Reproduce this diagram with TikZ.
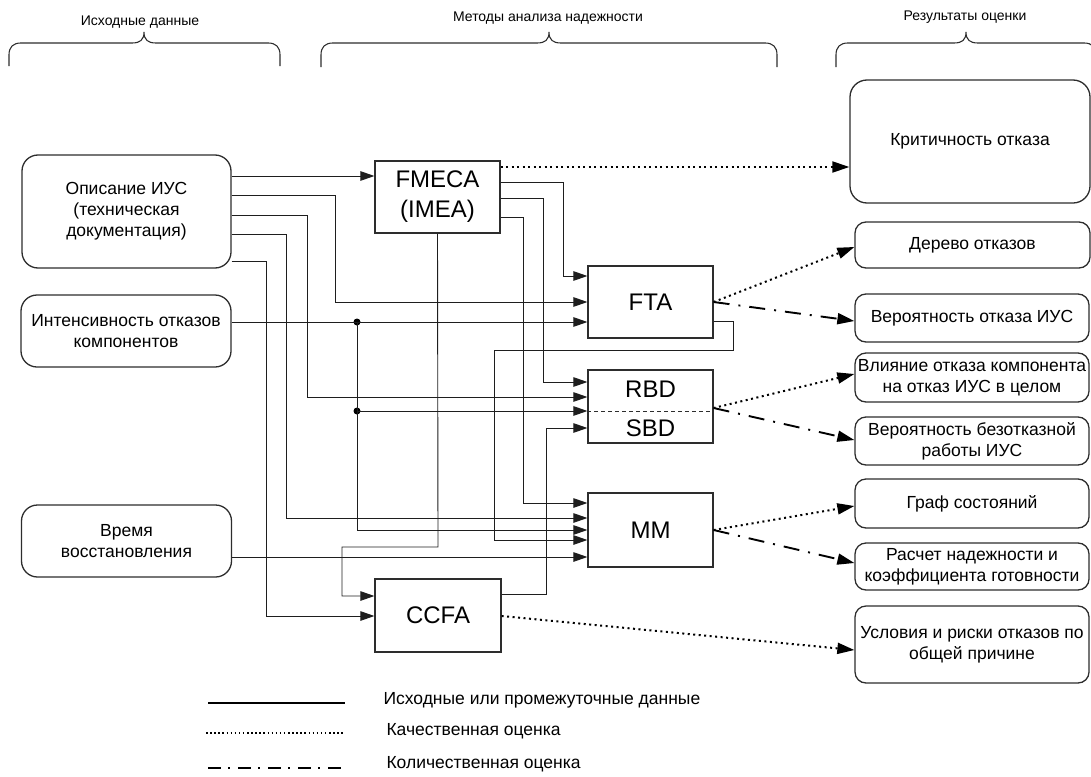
\documentclass[tikz,border=0pt]{standalone}
\usepackage{fontspec}
\setmainfont{Liberation Sans}
\usetikzlibrary{arrows.meta}
\newcommand\fsN{\fontsize{17.5}{21}\selectfont}
\newcommand\fsB{\fontsize{24}{30}\selectfont}
\newcommand\fsS{\fontsize{14}{17}\selectfont}
\definecolor{boxc}{RGB}{45,45,45}
\definecolor{wirec}{RGB}{30,30,30}
\tikzset{
  every node/.style={font=\fsN, text=black},
  inbox/.style={draw=boxc, line width=1.3pt, rounded corners=16pt, align=center, inner sep=0pt},
  outbox/.style={draw=boxc, line width=1.3pt, rounded corners=11pt, align=center, inner sep=0pt},
  mbox/.style={draw=boxc, line width=1.2pt, align=center, inner sep=0pt, font=\fsB},
  tip/.style={-{Triangle[length=14pt,width=9.5pt]}},
  bigtip/.style={-{Triangle[length=17pt,width=11pt]}},
  wire/.style={draw=wirec, line width=0.9pt, tip},
  qual/.style={draw=black, line width=2pt, dash pattern=on 2pt off 3.5pt, bigtip},
  quant/.style={draw=black, line width=1.9pt, dash pattern=on 16pt off 9pt on 2pt off 9pt, bigtip},
  junction/.style={circle, fill=black, inner sep=0pt, minimum size=7pt},
  bracelbl/.style={font=\fsS},
  bracepath/.style={draw=boxc, line width=1.1pt},
}
\begin{document}
\begin{tikzpicture}[x=1pt,y=-1pt]
\useasboundingbox (0,0) rectangle (1091,776);

% braces
\draw[bracepath] (9,66) -- (9,55) .. controls (9,47) and (13,43) .. (21,43) -- (132,43) .. controls (140,43) and (144,40) .. (144,32) .. controls (144,40) and (148,43) .. (156,43) -- (268,43) .. controls (276,43) and (280,47) .. (280,55) -- (280,66);
\draw[bracepath] (321,67) -- (321,55) .. controls (321,47) and (325,43) .. (333,43) -- (537,43) .. controls (545,43) and (549,40) .. (549,32) .. controls (549,40) and (553,43) .. (561,43) -- (765,43) .. controls (773,43) and (777,47) .. (777,55) -- (777,67);
\draw[bracepath] (836,67) -- (836,55) .. controls (836,47) and (840,43) .. (848,43) -- (954,43) .. controls (962,43) and (966,40) .. (966,32) .. controls (966,40) and (970,43) .. (978,43) -- (1084,43) .. controls (1092,43) and (1096,47) .. (1096,55) -- (1096,67);
\node[bracelbl] (h1) at (140,22) {Исходные данные};
\node[bracelbl] (h2) at (548,18) {Методы анализа надежности};
\node[bracelbl] (h3) at (965,17) {Результаты оценки};

% input boxes
\node[inbox, minimum width=209pt, minimum height=113pt] (desc) at (126.5,211.5) {Описание ИУС\\(техническая\\документация)};
\node[inbox, minimum width=210pt, minimum height=72pt] (intens) at (126,331) {Интенсивность отказов\\компонентов};
\node[inbox, minimum width=210pt, minimum height=72pt] (vrem) at (126.5,541) {Время\\восстановления};

% method boxes
\node[mbox, minimum width=125pt, minimum height=72pt] (fmeca) at (437.5,197) {FMECA\\(IMEA)};
\node[mbox, minimum width=125pt, minimum height=72pt] (fta) at (650.5,302) {FTA};
\node[mbox, minimum width=125pt, minimum height=73pt] (rbd) at (650.5,406.5) {};
\node[font=\fsB] (rbdt) at (650.5,389) {RBD};
\node[font=\fsB] (sbdt) at (650.5,428.5) {SBD};
\draw[draw=boxc, line width=0.6pt, dash pattern=on 4pt off 3pt] (rbd.west |- 0,411) -- (rbd.east |- 0,411);
\node[mbox, minimum width=125pt, minimum height=74pt] (mm) at (650.5,530) {MM};
\node[mbox, minimum width=126pt, minimum height=73pt] (ccfa) at (438,615.5) {CCFA};

% result boxes
\node[outbox, rounded corners=17pt, minimum width=240pt, minimum height=123pt] (crit) at (970,141.5) {Критичность отказа};
\node[outbox, minimum width=235pt, minimum height=46pt] (tree) at (972.5,245) {Дерево отказов};
\node[outbox, minimum width=234pt, minimum height=48pt] (pfail) at (972,318) {Вероятность отказа ИУС};
\node[outbox, minimum width=234pt, minimum height=49pt] (infl) at (972,377.5) {Влияние отказа компонента\\на отказ ИУС в целом};
\node[outbox, minimum width=234pt, minimum height=48pt] (prel) at (972,441) {Вероятность безотказной\\работы ИУС};
\node[outbox, minimum width=234pt, minimum height=49pt] (graph) at (972,503.5) {Граф состояний};
\node[outbox, minimum width=234pt, minimum height=47pt] (calc) at (972,566.5) {Расчет надежности и\\коэффициента готовности};
\node[outbox, minimum width=234pt, minimum height=77pt] (cond) at (972,644.5) {Условия и риски отказов по\\общей причине};

% solid wires from description
\draw[wire] (desc.east |- 0,176) -- (fmeca.west |- 0,176);
\draw[wire] (desc.east |- 0,195) -- (335,195) -- (335,302) -- (fta.west |- 0,302);
\draw[wire] (desc.east |- 0,215) -- (307,215) -- (307,397) -- (rbd.west |- 0,397);
\draw[wire] (desc.east |- 0,234) -- (286,234) -- (286,518) -- (mm.west |- 0,518);
\draw[wire] (desc.east |- 0,261) -- (266,261) -- (266,616) -- (ccfa.west |- 0,616);

% intensities
\node[junction] (j1) at (357,322) {};
\node[junction] (j2) at (357,411) {};
\draw[wire] (intens.east |- 0,322) -- (fta.west |- 0,322);
\draw[wire] (j1.center) -- (357,530) -- (mm.west |- 0,530);
\draw[wire] (j2.center) -- (rbd.west |- 0,411);

% repair time
\draw[wire] (vrem.east |- 0,557) -- (mm.west |- 0,557);

% FMECA outputs
\draw[wire] (fmeca.south) -- (438,547) -- (342,547) -- (342,596) -- (ccfa.west |- 0,596);
\draw[wire] (fmeca.east |- 0,182) -- (563,182) -- (563,276) -- (fta.west |- 0,276);
\draw[wire] (fmeca.east |- 0,198) -- (543,198) -- (543,382) -- (rbd.west |- 0,382);
\draw[wire] (fmeca.east |- 0,217) -- (523,217) -- (523,503) -- (mm.west |- 0,503);

% FTA -> MM
\draw[wire] (fta.east |- 0,321) -- (733,321) -- (733,350) -- (494,350) -- (494,540) -- (mm.west |- 0,540);
% CCFA -> SBD
\draw[wire] (ccfa.east |- 0,594) -- (546,594) -- (546,428) -- (rbd.west |- 0,428);

% qualitative / quantitative results
\draw[qual] (fmeca.east |- 0,167) -- (crit.west |- 0,167);
\draw[qual] (fta.east) -- (tree.west |- 0,247);
\draw[quant] (fta.east) -- (pfail.west |- 0,321);
\draw[qual] (rbd.east |- 0,408) -- (infl.west |- 0,374);
\draw[quant] (rbd.east |- 0,408) -- (prel.west |- 0,440);
\draw[qual] (mm.east) -- (graph.west |- 0,506);
\draw[quant] (mm.east) -- (calc.west |- 0,563);
\draw[qual] (ccfa.east |- 0,616) -- (cond.west |- 0,650);

% legend
\coordinate (l1a) at (208,703); \coordinate (l1b) at (345,703);
\coordinate (l2a) at (206,733); \coordinate (l2b) at (345,733);
\coordinate (l3a) at (208,768); \coordinate (l3b) at (345,768);
\draw[line width=2pt, black] (l1a) -- (l1b);
\draw[line width=1.3pt, black, dash pattern=on 1.5pt off 2.6pt] (l2a) -- (l2b);
\draw[line width=2.6pt, black, dash pattern=on 13pt off 7pt on 2pt off 8pt] (l3a) -- (l3b);
\node[anchor=west] (t1) at (380,700) {Исходные или промежуточные данные};
\node[anchor=west] (t2) at (383,731) {Качественная оценка};
\node[anchor=west] (t3) at (383,764) {Количественная оценка};
\end{tikzpicture}
\end{document}
